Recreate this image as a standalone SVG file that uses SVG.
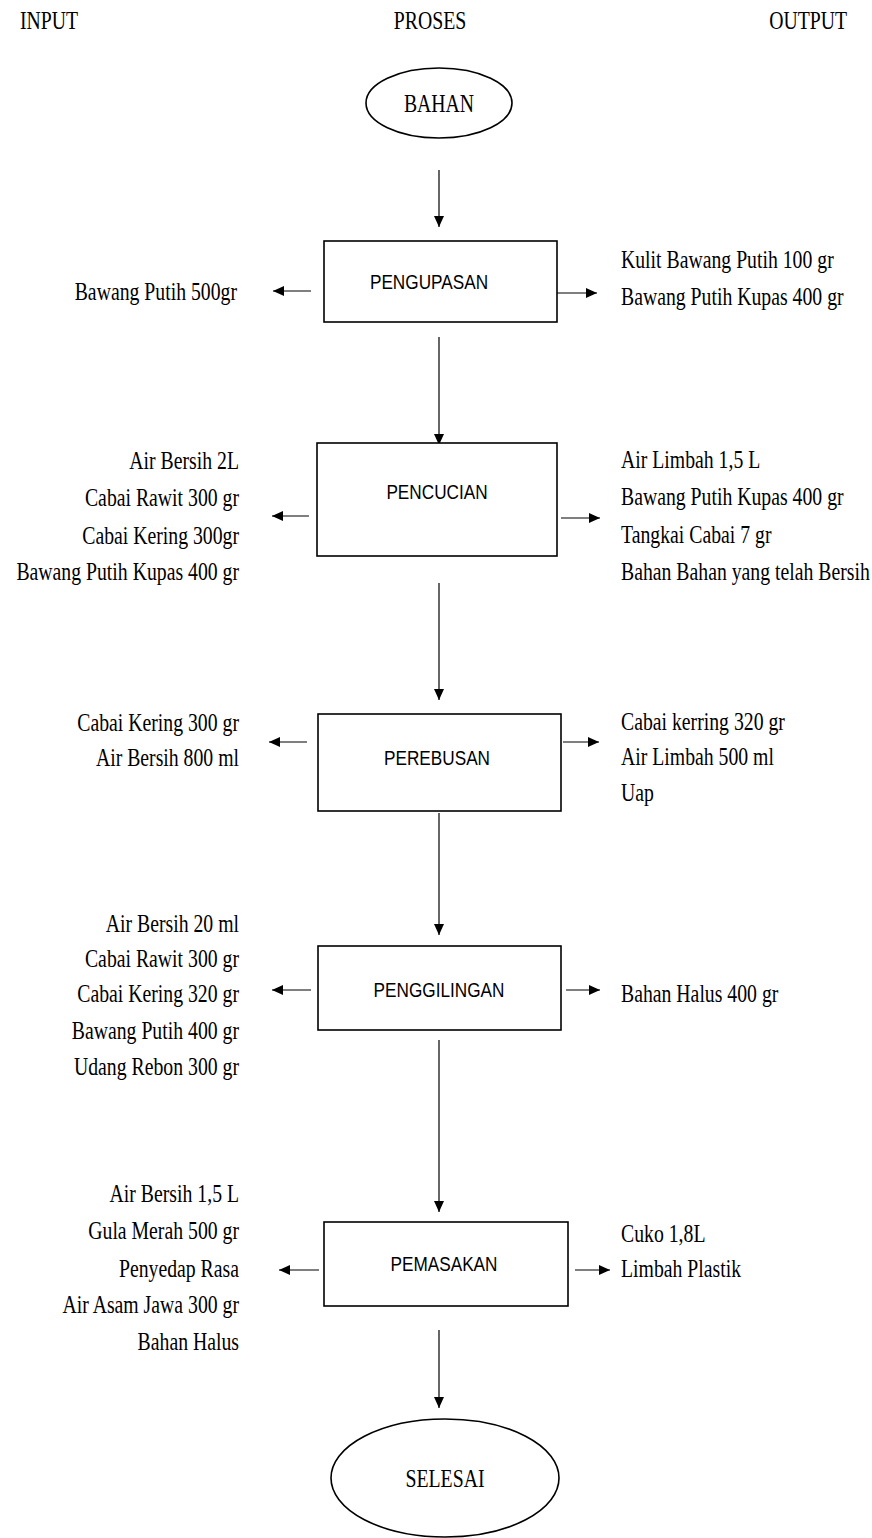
<svg xmlns="http://www.w3.org/2000/svg" width="872" height="1538" viewBox="0 0 872 1538">
<style>
.t{font-family:"Liberation Serif","Times New Roman",serif;font-size:25px;fill:#000}
.e{text-anchor:end}
.m{text-anchor:middle}
.b{font-family:"Liberation Sans",Arial,sans-serif;font-size:20px;text-anchor:middle;fill:#000}
.box{fill:#fff;stroke:#000;stroke-width:1.6}
.oval{fill:#fff;stroke:#000;stroke-width:1.6}
.ln{stroke:#000;stroke-width:1.2;fill:none;marker-end:url(#ah)}
</style>
<defs>
<marker id="ah" markerUnits="userSpaceOnUse" markerWidth="11" markerHeight="10" refX="11" refY="5" orient="auto"><path d="M0,0 L11,5 L0,10 z" fill="#000"/></marker>
</defs>
<rect width="872" height="1538" fill="#fff"/>
<g id="headers">
<text class="t" transform="translate(20,29) scale(0.79,1)">INPUT</text>
<text class="t m" transform="translate(430,29) scale(0.79,1)">PROSES</text>
<text class="t e" transform="translate(847,29) scale(0.79,1)">OUTPUT</text>
</g>
<g id="connectors">
<line class="ln" x1="439" y1="170" x2="439" y2="227"/>
<line class="ln" x1="311" y1="291" x2="273" y2="291"/>
<line class="ln" x1="553" y1="293" x2="597" y2="293"/>
<line class="ln" x1="439" y1="337" x2="439" y2="445"/>
<line class="ln" x1="309" y1="516" x2="272" y2="516"/>
<line class="ln" x1="561" y1="518" x2="600" y2="518"/>
<line class="ln" x1="439" y1="583" x2="439" y2="700"/>
<line class="ln" x1="307" y1="742" x2="269" y2="742"/>
<line class="ln" x1="563" y1="742" x2="599" y2="742"/>
<line class="ln" x1="439" y1="813" x2="439" y2="935"/>
<line class="ln" x1="311" y1="990" x2="272" y2="990"/>
<line class="ln" x1="566" y1="990" x2="600" y2="990"/>
<line class="ln" x1="439" y1="1040" x2="439" y2="1212"/>
<line class="ln" x1="319" y1="1270" x2="279" y2="1270"/>
<line class="ln" x1="575" y1="1270" x2="610" y2="1270"/>
<line class="ln" x1="439" y1="1330" x2="439" y2="1408"/>
</g>
<g id="bahan">
<ellipse class="oval" cx="439" cy="103" rx="73" ry="35"/>
<text class="t m" transform="translate(439,112) scale(0.79,1)">BAHAN</text>
</g>
<g id="pengupasan">
<rect class="box" x="324" y="241" width="233" height="81"/>
<text class="b" transform="translate(429,289) scale(0.86,1)">PENGUPASAN</text>
<text class="t e" transform="translate(237,300) scale(0.79,1)">Bawang Putih 500gr</text>
<text class="t" transform="translate(621,268) scale(0.79,1)">Kulit Bawang Putih 100 gr</text>
<text class="t" transform="translate(621,305) scale(0.79,1)">Bawang Putih Kupas 400 gr</text>
</g>
<g id="pencucian">
<rect class="box" x="317" y="443" width="240" height="113"/>
<text class="b" transform="translate(437,499) scale(0.86,1)">PENCUCIAN</text>
<text class="t e" transform="translate(239,469) scale(0.79,1)">Air Bersih 2L</text>
<text class="t e" transform="translate(239,506) scale(0.79,1)">Cabai Rawit 300 gr</text>
<text class="t e" transform="translate(239,544) scale(0.79,1)">Cabai Kering 300gr</text>
<text class="t e" transform="translate(239,580) scale(0.79,1)">Bawang Putih Kupas 400 gr</text>
<text class="t" transform="translate(621,468) scale(0.79,1)">Air Limbah 1,5 L</text>
<text class="t" transform="translate(621,505) scale(0.79,1)">Bawang Putih Kupas 400 gr</text>
<text class="t" transform="translate(621,543) scale(0.79,1)">Tangkai Cabai 7 gr</text>
<text class="t" transform="translate(621,580) scale(0.79,1)">Bahan Bahan yang telah Bersih</text>
</g>
<g id="perebusan">
<rect class="box" x="318" y="714" width="243" height="97"/>
<text class="b" transform="translate(437,765) scale(0.86,1)">PEREBUSAN</text>
<text class="t e" transform="translate(239,731) scale(0.79,1)">Cabai  Kering 300 gr</text>
<text class="t e" transform="translate(239,766) scale(0.79,1)">Air Bersih 800 ml</text>
<text class="t" transform="translate(621,730) scale(0.79,1)">Cabai kerring 320 gr</text>
<text class="t" transform="translate(621,765) scale(0.79,1)">Air Limbah 500 ml</text>
<text class="t" transform="translate(621,801) scale(0.79,1)">Uap</text>
</g>
<g id="penggilingan">
<rect class="box" x="318" y="946" width="243" height="84"/>
<text class="b" transform="translate(439,997) scale(0.86,1)">PENGGILINGAN</text>
<text class="t e" transform="translate(239,932) scale(0.79,1)">Air Bersih 20 ml</text>
<text class="t e" transform="translate(239,967) scale(0.79,1)">Cabai Rawit 300 gr</text>
<text class="t e" transform="translate(239,1002) scale(0.79,1)">Cabai Kering 320 gr</text>
<text class="t e" transform="translate(239,1039) scale(0.79,1)">Bawang Putih 400 gr</text>
<text class="t e" transform="translate(239,1075) scale(0.79,1)">Udang Rebon 300 gr</text>
<text class="t" transform="translate(621,1002) scale(0.79,1)">Bahan Halus 400 gr</text>
</g>
<g id="pemasakan">
<rect class="box" x="324" y="1222" width="244" height="84"/>
<text class="b" transform="translate(444,1271) scale(0.86,1)">PEMASAKAN</text>
<text class="t e" transform="translate(239,1202) scale(0.79,1)">Air Bersih 1,5 L</text>
<text class="t e" transform="translate(239,1239) scale(0.79,1)">Gula Merah 500 gr</text>
<text class="t e" transform="translate(239,1277) scale(0.79,1)">Penyedap Rasa</text>
<text class="t e" transform="translate(239,1313) scale(0.79,1)">Air Asam Jawa 300 gr</text>
<text class="t e" transform="translate(239,1350) scale(0.79,1)">Bahan Halus</text>
<text class="t" transform="translate(621,1242) scale(0.79,1)">Cuko 1,8L</text>
<text class="t" transform="translate(621,1277) scale(0.79,1)">Limbah Plastik</text>
</g>
<g id="selesai">
<ellipse class="oval" cx="445" cy="1478" rx="114" ry="59"/>
<text class="t m" transform="translate(445,1487) scale(0.79,1)">SELESAI</text>
</g>
</svg>
